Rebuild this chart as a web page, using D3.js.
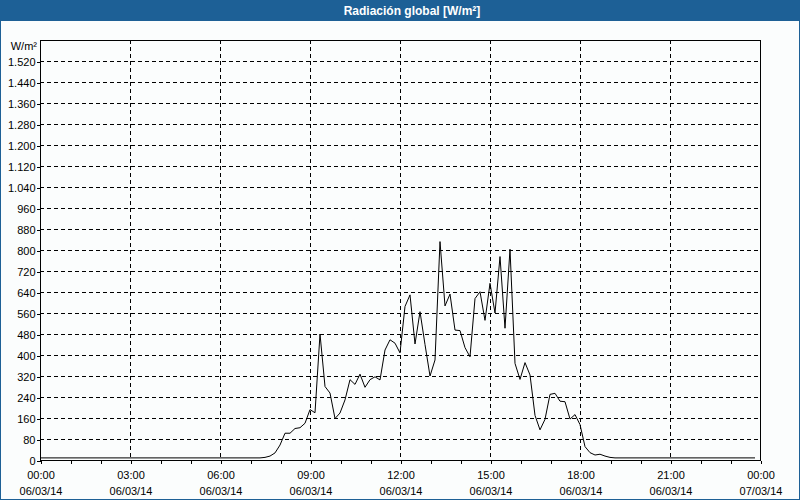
<!DOCTYPE html>
<html>
<head>
<meta charset="utf-8">
<script src="https://cdn.jsdelivr.net/npm/d3@7"></script>
<style>
  html, body { margin: 0; padding: 0; background: #fbfdfd; }
  svg { display: block; }
  text { font-family: "Liberation Sans", Arial, sans-serif; }
</style>
</head>
<body>
<svg id="chart" width="800" height="500"></svg>
<script>
// ---- data ----
const title = "Radiación global [W/m²]";
const unitLabel = "W/m²";
const startTime = "2014-03-06T00:00:00";
const endTime = "2014-03-07T00:00:00";
const stepMinutes = 10;
// 10-minute values, 00:00 .. 23:50
const radiation = [
  8, 8, 8, 8, 8, 8, 8, 8, 8, 8, 8, 8,           // 00:00-01:50
  8, 8, 8, 8, 8, 8, 8, 8, 8, 8, 8, 8,           // 02:00-03:50
  8, 8, 8, 8, 8, 8, 8, 8, 8, 8, 8, 8,           // 04:00-05:50
  8, 8, 8, 8, 8, 8, 8, 8, 8, 10, 15, 27,        // 06:00-07:50
  57, 102, 102, 120, 123, 140, 192, 180, 480, 280, 255, 158,   // 08:00-09:50
  179, 229, 306, 288, 327, 277, 306, 317, 305, 419, 458, 445,  // 10:00-11:50
  408, 585, 629, 442, 565, 440, 320, 381, 832, 587, 632, 495,  // 12:00-13:50
  493, 428, 393, 615, 641, 532, 673, 560, 775, 502, 803, 368,  // 14:00-15:50
  307, 371, 324, 170, 115, 155, 250, 254, 224, 222, 156, 173,  // 16:00-17:50
  135, 51, 28, 19, 22, 15, 10, 8, 8, 8, 8, 8,   // 18:00-19:50
  8, 8, 8, 8, 8, 8, 8, 8, 8, 8, 8, 8,           // 20:00-21:50
  8, 8, 8, 8, 8, 8, 8, 8, 8, 8, 8, 8            // 22:00-23:50
];
const yTickValues = [0, 80, 160, 240, 320, 400, 480, 560, 640, 720, 800, 880, 960, 1040, 1120, 1200, 1280, 1360, 1440, 1520];
const yMax = 1600;
const dateLabelFormat = "%d/%m/%y";
const hourLabelFormat = "%H:%M";

// ---- layout ----
const W = 800, H = 500;
const M = { left: 40, right: 40, top: 40, bottom: 40 };
const svg = d3.select("#chart");

const t0 = new Date(startTime), t1 = new Date(endTime);
const points = radiation.map((v, i) => ({ t: d3.timeMinute.offset(t0, i * stepMinutes), v }));

const x = d3.scaleTime().domain([t0, t1]).range([M.left, W - M.right]);
const y = d3.scaleLinear().domain([0, yMax]).range([H - M.bottom, M.top]);

const locale = d3.formatLocale({ decimal: ",", thousands: ".", grouping: [3], currency: ["", ""] });
const fmtY = locale.format(",d");

// background + border
svg.append("rect").attr("x", 0.5).attr("y", 0.5).attr("width", W - 1).attr("height", H - 1)
  .attr("fill", "#fbfdfd").attr("stroke", "#1d6096").attr("stroke-width", 1);

// title bar
svg.append("rect").attr("x", 0).attr("y", 0).attr("width", W).attr("height", 21).attr("fill", "#1d6096");
svg.append("text").attr("x", 412).attr("y", 15).attr("text-anchor", "middle")
  .attr("fill", "#ffffff").attr("font-weight", "bold").attr("font-size", 12).text(title);

// gridlines
const grid = svg.append("g").attr("stroke", "#000").attr("stroke-dasharray", "4,3")
  .attr("shape-rendering", "crispEdges");
grid.selectAll("line.h").data(yTickValues.filter(v => v > 0)).join("line")
  .attr("class", "h")
  .attr("x1", M.left).attr("x2", W - M.right)
  .attr("y1", d => Math.round(y(d)) + 0.5).attr("y2", d => Math.round(y(d)) + 0.5);
const vTicks = d3.timeHour.every(3).range(t0, t1).filter(d => +d > +t0);
grid.selectAll("line.v").data(vTicks).join("line")
  .attr("class", "v")
  .attr("y1", M.top).attr("y2", H - M.bottom)
  .attr("x1", d => Math.round(x(d)) + 0.5).attr("x2", d => Math.round(x(d)) + 0.5);

// frame
svg.append("rect").attr("x", M.left + 0.5).attr("y", M.top + 0.5)
  .attr("width", W - M.left - M.right).attr("height", H - M.top - M.bottom)
  .attr("fill", "none").attr("stroke", "#000").attr("shape-rendering", "crispEdges");

// x axis minor (hourly) ticks
const xMinor = svg.append("g").attr("transform", `translate(0.5,${H - M.bottom + 0.5})`)
  .call(d3.axisBottom(x).ticks(d3.timeHour.every(1)).tickSize(3).tickFormat(""));
xMinor.select(".domain").remove();
xMinor.selectAll("line").attr("shape-rendering", "crispEdges");

// x axis labels (every 3h)
const xAxis = svg.append("g").attr("transform", `translate(0.5,${H - M.bottom + 0.5})`)
  .call(d3.axisBottom(x).tickValues(d3.timeHour.every(3).range(t0, d3.timeMinute.offset(t1, 1)))
    .tickSize(3).tickPadding(7).tickFormat(""));
xAxis.select(".domain").remove();
xAxis.selectAll("line").attr("shape-rendering", "crispEdges");
const fH = d3.timeFormat(hourLabelFormat), fD = d3.timeFormat(dateLabelFormat);
xAxis.selectAll(".tick text").each(function(d) {
  const t = d3.select(this).attr("y", 0).attr("dy", null)
    .attr("font-size", 11).attr("fill", "#000").attr("font-family", "Liberation Sans, Arial, sans-serif");
  t.append("tspan").attr("x", 0).attr("y", 18).text(fH(d));
  t.append("tspan").attr("x", 0).attr("y", 34).text(fD(d));
});

// y axis
const yAxis = svg.append("g").attr("transform", `translate(${M.left + 0.5},0.5)`)
  .call(d3.axisLeft(y).tickValues(yTickValues).tickSize(4).tickPadding(1).tickFormat(fmtY));
yAxis.select(".domain").remove();
yAxis.selectAll("line").attr("shape-rendering", "crispEdges");
yAxis.selectAll("text").attr("font-size", 11).attr("fill", "#000")
  .attr("font-family", "Liberation Sans, Arial, sans-serif");

// unit label
svg.append("text").attr("x", 37).attr("y", 50).attr("text-anchor", "end")
  .attr("font-size", 11).attr("fill", "#000").text(unitLabel);

// data line
const line = d3.line().x(d => x(d.t)).y(d => y(d.v));
svg.append("path").datum(points).attr("d", line)
  .attr("fill", "none").attr("stroke", "#000").attr("stroke-width", 1);
</script>
</body>
</html>
